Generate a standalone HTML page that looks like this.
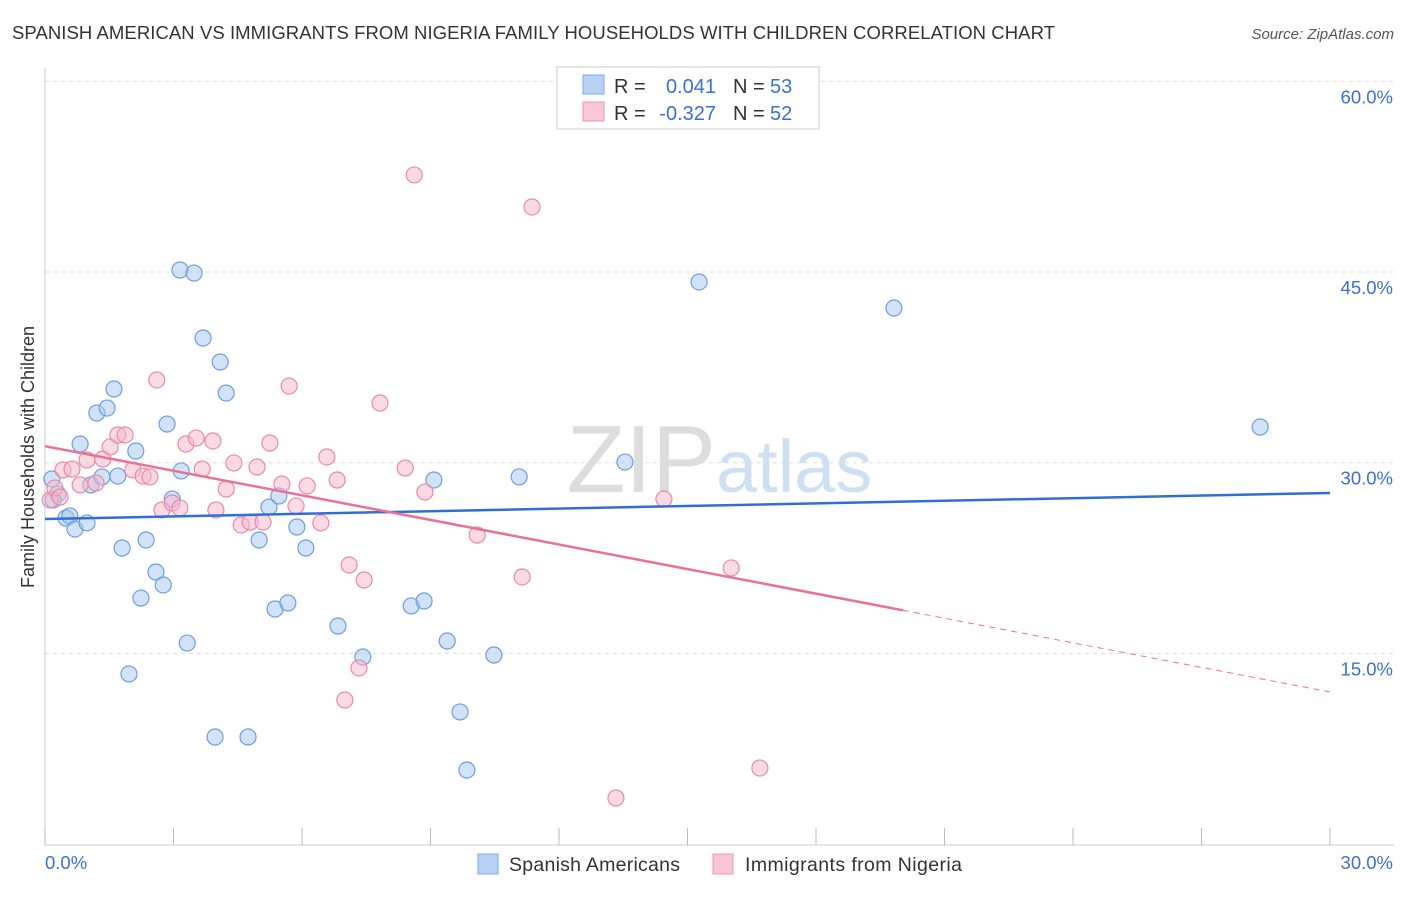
<!DOCTYPE html>
<html><head><meta charset="utf-8"><style>
body{margin:0;background:#fff;font-family:"Liberation Sans",sans-serif}
svg text{font-family:"Liberation Sans",sans-serif}
</style></head><body>
<svg id="c" width="1406" height="892" viewBox="0 0 1406 892">
<text x="12" y="39" font-size="18.5" fill="#333" textLength="1043">SPANISH AMERICAN VS IMMIGRANTS FROM NIGERIA FAMILY HOUSEHOLDS WITH CHILDREN CORRELATION CHART</text>
<text x="1394" y="39" font-size="15" fill="#555" font-style="italic" text-anchor="end">Source: ZipAtlas.com</text>
<text x="716" y="492" font-size="96" fill="#ddd" font-family="Liberation Serif" text-anchor="end">ZIP</text>
<text x="716" y="492" font-size="74" fill="#cfe0f3">atlas</text>
<g id="grid"></g><g id="pts"></g><g id="lines"></g>
<text transform="translate(34,457) rotate(-90)" font-size="18" fill="#333" text-anchor="middle">Family Households with Children</text>
<g>
<rect x="557" y="67" width="262" height="62" fill="#fff" stroke="#ccc"/>
<rect x="583" y="75" width="21" height="19" fill="#b8d2f4" stroke="#7ea9e0"/>
<rect x="583" y="102" width="21" height="19" fill="#f9c6d5" stroke="#e996b0"/>
<text x="614" y="93" font-size="20" fill="#333">R =</text><text x="716" y="93" font-size="20" fill="#3b6fd4" text-anchor="end">0.041</text>
<text x="733" y="93" font-size="20" fill="#333">N =</text><text x="770" y="93" font-size="20" fill="#3b6fd4">53</text>
<text x="614" y="120" font-size="20" fill="#333">R =</text><text x="716" y="120" font-size="20" fill="#3b6fd4" text-anchor="end">-0.327</text>
<text x="733" y="120" font-size="20" fill="#333">N =</text><text x="770" y="120" font-size="20" fill="#3b6fd4">52</text>
</g>
<g>
<rect x="478" y="854" width="20" height="20" fill="#b8d2f4" stroke="#7ea9e0"/>
<text x="509" y="871" font-size="19.5" fill="#333" textLength="171">Spanish Americans</text>
<rect x="713" y="854" width="20" height="20" fill="#f9c6d5" stroke="#e996b0"/>
<text x="745" y="871" font-size="19.5" fill="#333" textLength="217">Immigrants from Nigeria</text>
</g>
</svg>
<script>
const blueX=[0.16,0.30,0.49,0.58,0.70,0.82,0.98,1.07,1.21,1.33,1.45,1.61,1.70,1.80,1.96,2.12,2.24,2.36,2.59,2.76,2.85,2.97,3.15,3.18,3.32,3.48,3.69,3.97,4.09,4.23,4.74,5.00,5.23,5.37,5.46,5.67,5.88,6.09,6.84,7.42,8.55,8.85,9.08,9.39,9.69,9.85,10.48,11.07,13.54,15.27,19.82,28.37,0.19];
const blueY=[28.72,27.54,25.65,25.81,24.78,31.47,25.26,28.25,33.91,28.88,34.30,35.80,28.95,23.29,13.38,30.92,19.35,23.92,21.40,20.38,33.04,27.14,45.16,29.35,15.81,44.92,39.81,8.42,37.92,35.48,8.42,23.92,26.51,18.49,27.38,18.96,24.94,23.29,17.15,14.71,18.73,19.12,28.64,15.97,10.39,5.82,14.87,28.88,30.05,44.22,42.17,32.81,27.07];
const pinkX=[0.12,0.23,0.35,0.42,0.63,0.82,0.98,1.19,1.35,1.52,1.70,1.87,2.05,2.29,2.45,2.61,2.73,2.97,3.15,3.29,3.53,3.67,3.92,3.99,4.23,4.41,4.58,4.79,4.95,5.09,5.25,5.53,5.70,5.86,6.12,6.44,6.58,6.82,7.00,7.10,7.33,7.45,7.82,8.41,8.62,8.87,10.09,11.14,11.37,13.33,14.45,16.02,16.69];
const pinkY=[27.07,28.01,27.30,29.43,29.50,28.25,30.21,28.40,30.29,31.24,32.18,32.18,29.43,28.95,28.88,36.51,26.28,26.83,26.44,31.47,31.94,29.50,31.71,26.28,27.93,29.98,25.10,25.33,29.66,25.33,31.55,28.32,36.03,26.59,28.17,25.26,30.45,28.64,11.33,21.95,13.85,20.77,34.70,29.58,52.64,27.69,24.31,21.01,50.12,3.62,27.14,21.72,5.98];
const yTicks=[15,30,45,60];
const blueTrend=[25.57,27.62];
const pinkTrend=[31.3,11.96];
const pinkSolidEnd=20.03;
const X=v=>45+v*42.833, Y=v=>844-v*12.71;
const NS='http://www.w3.org/2000/svg';
function mk(p,t,a){const e=document.createElementNS(NS,t);for(const k in a)e.setAttribute(k,a[k]);p.appendChild(e);return e;}
const g=document.getElementById('grid');
yTicks.forEach(t=>{
 const l=mk(g,'line',{x1:45,x2:1394,y1:Y(t),y2:Y(t),stroke:'#ddd','stroke-dasharray':'4,4'});
 
 
 const tx=mk(g,'text',{x:1393,y:Y(t)+22,'font-size':18.5,fill:'#3b6fd4','text-anchor':'end'});tx.textContent=t.toFixed(1)+'%';
 
 
});
mk(g,'line',{x1:45,x2:45,y1:68,y2:845,stroke:'#ccc'});
mk(g,'line',{x1:45,x2:1394,y1:845,y2:845,stroke:'#ccc'});
for(let i=0;i<=10;i++){const l=mk(g,'line',{x1:X(i*3),x2:X(i*3),y1:828,y2:845,stroke:'#bbb'});
 
 }
const x0=mk(g,'text',{x:45,y:869,'font-size':18.5,fill:'#3b6fd4'});x0.textContent='0.0%';


const x1=mk(g,'text',{x:1393,y:869,'font-size':18.5,fill:'#3b6fd4','text-anchor':'end'});x1.textContent='30.0%';


const pg=document.getElementById('pts');
blueX.forEach((v,i)=>{const c=mk(pg,'circle',{cx:X(v),cy:Y(blueY[i]),r:8,fill:'rgba(168,200,240,0.5)',stroke:'#6d9de0','stroke-width':1.2});
 
 });
pinkX.forEach((v,i)=>{const c=mk(pg,'circle',{cx:X(v),cy:Y(pinkY[i]),r:8,fill:'rgba(245,184,203,0.5)',stroke:'#e88aa8','stroke-width':1.2});
 
 });
const lg=document.getElementById('lines');
const bl=mk(lg,'line',{x1:X(0),y1:Y(blueTrend[0]),x2:X(30),y2:Y(blueTrend[1]),stroke:'#2f6fd6','stroke-width':2.5});


const pv=x=>pinkTrend[0]+(pinkTrend[1]-pinkTrend[0])*x/30;
const pl=mk(lg,'line',{x1:X(0),y1:Y(pv(0)),x2:X(pinkSolidEnd),y2:Y(pv(pinkSolidEnd)),stroke:'#e8719a','stroke-width':2.5});


const pd=mk(lg,'line',{x1:X(pinkSolidEnd),y1:Y(pv(pinkSolidEnd)),x2:X(30),y2:Y(pv(30)),stroke:'#e8719a','stroke-width':1,'stroke-dasharray':'6,5'});


</script>
</body></html>
